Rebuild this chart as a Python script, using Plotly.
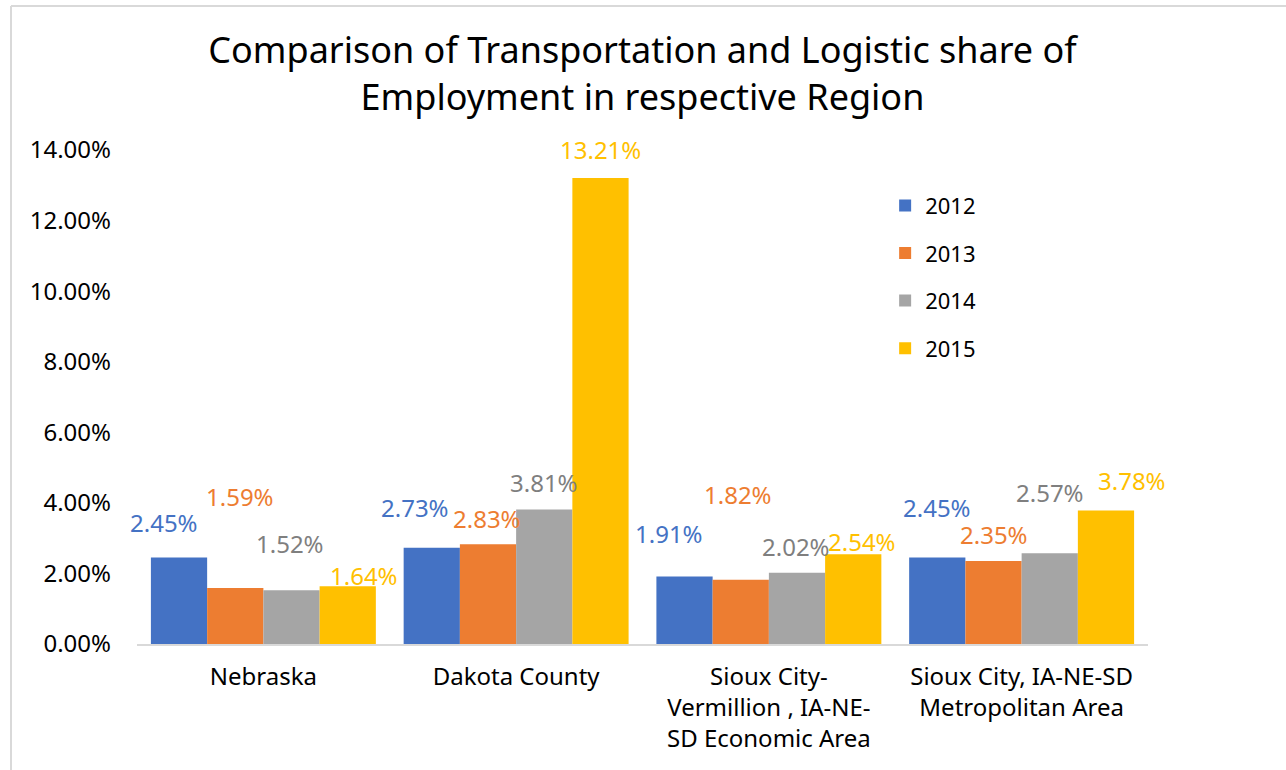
import plotly.graph_objects as go

# Regions (category axis) and yearly share of employment (%)
regions = [
    "Nebraska",
    "Dakota County",
    "Sioux City-<br>Vermillion , IA-NE-<br>SD Economic Area",
    "Sioux City, IA-NE-SD<br>Metropolitan Area",
]
years = ["2012", "2013", "2014", "2015"]
share_2012 = [2.45, 2.73, 1.91, 2.45]
share_2013 = [1.59, 2.83, 1.82, 2.35]
share_2014 = [1.52, 3.81, 2.02, 2.57]
share_2015 = [1.64, 13.21, 2.54, 3.78]
series = [share_2012, share_2013, share_2014, share_2015]

y_ticks = [0, 2, 4, 6, 8, 10, 12, 14]
y_tick_text = [f"{v:.2f}%" for v in y_ticks]

# Styling
bar_colors = ["#4472C4", "#ED7D31", "#A5A5A5", "#FFC000"]
label_colors = ["#4472C4", "#ED7D31", "#7F7F7F", "#FFC000"]
FONT = "Noto Sans"
BARGAP = 0.11

# Per-label nudges in pixels (dx, rise of label centre above bar top)
label_dx = [
    [-15, 5, -1, 16],
    [-17, -1, 0, 0],
    [-16, -3, -1, 9],
    [0, 0, 0, 26],
]
label_rise = [
    [35, 91, 47, 11],
    [40, 26, 27, 28],
    [43, 85, 26, 13],
    [50, 27, 61, 30],
]

fig = go.Figure()
for k, (yr, vals) in enumerate(zip(years, series)):
    fig.add_trace(go.Bar(
        name=yr, x=regions, y=vals,
        marker=dict(color=bar_colors[k], line=dict(width=0)),
        legendgroup=yr,
        hoverinfo="skip",
    ))

bar_w = (1 - BARGAP) / len(years)
annotations = []
for k, vals in enumerate(series):
    for i, v in enumerate(vals):
        annotations.append(dict(
            x=i + (k - (len(years) - 1) / 2) * bar_w, y=v,
            xref="x", yref="y",
            text=f"{v:.2f}%", showarrow=False,
            xanchor="center", yanchor="middle",
            xshift=label_dx[i][k], yshift=label_rise[i][k],
            font=dict(family=FONT, size=24, color=label_colors[k]),
        ))

L, R, T, B = 137, 138, 150, 126
PW, PH = 1286 - L - R, 770 - T - B

fig.update_layout(
    width=1286, height=770,
    paper_bgcolor="white", plot_bgcolor="white",
    margin=dict(l=L, r=R, t=T, b=B, autoexpand=False),
    barmode="group", bargap=BARGAP, bargroupgap=0,
    title=dict(
        text="Comparison of Transportation and Logistic share of<br>Employment in respective Region",
        x=0.5, xanchor="center", xref="paper",
        y=1 - 63 / 770, yanchor="middle", yref="container",
        font=dict(family=FONT, size=36, color="#000000"),
    ),
    legend=dict(
        x=0.74, xanchor="left", y=0.93, yanchor="top",
        font=dict(family=FONT, size=22, color="#000000"),
        tracegroupgap=16, bgcolor="rgba(0,0,0,0)",
    ),
    xaxis=dict(
        range=[-0.5, len(regions) - 0.5],
        showgrid=False, showline=True, linecolor="#D9D9D9", linewidth=2,
        ticks="", tickfont=dict(family=FONT, size=24, color="#000000"),
        ticklabelstandoff=10, automargin=False,
    ),
    yaxis=dict(
        range=[0, 14], tickvals=y_ticks, ticktext=y_tick_text,
        showgrid=False, zeroline=False, showline=False,
        tickfont=dict(family=FONT, size=24, color="#000000"),
        ticklabelstandoff=25, automargin=False,
    ),
    annotations=annotations,
)

# Light frame along the top and left edges of the chart area
frame_top = 1 + (T - 6) / PH
frame_left = (11 - L) / PW
fig.add_shape(type="line", xref="paper", yref="paper",
              x0=frame_left, x1=(1286 - L) / PW, y0=frame_top, y1=frame_top,
              line=dict(color="#D9D9D9", width=2))
fig.add_shape(type="line", xref="paper", yref="paper",
              x0=frame_left, x1=frame_left, y0=frame_top, y1=-B / PH,
              line=dict(color="#D9D9D9", width=2))

fig.write_html("out.html")
